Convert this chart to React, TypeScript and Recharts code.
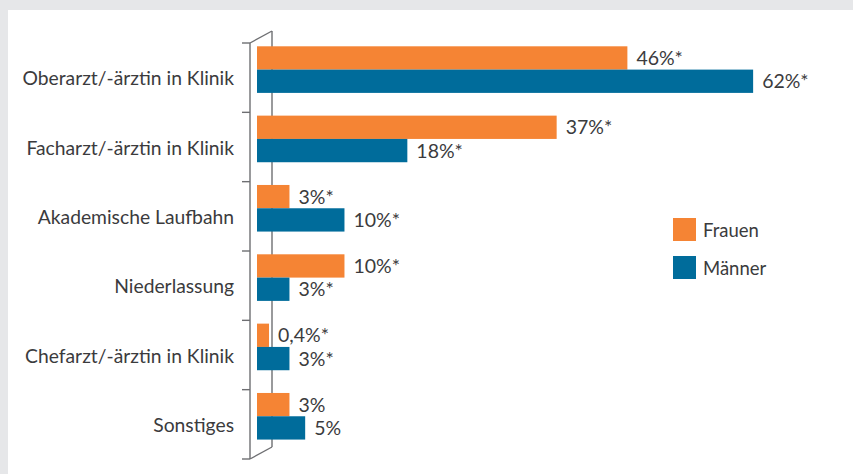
import React from "react";
import { BarChart, Bar, XAxis, YAxis, LabelList, Legend } from "recharts";

const categories = [
  "Oberarzt/-ärztin in Klinik",
  "Facharzt/-ärztin in Klinik",
  "Akademische Laufbahn",
  "Niederlassung",
  "Chefarzt/-ärztin in Klinik",
  "Sonstiges",
];
const frauen = [46, 37, 3, 10, 0.4, 3];
const maenner = [62, 18, 10, 3, 3, 5];
const frauenLabels = ["46%*", "37%*", "3%*", "10%*", "0,4%*", "3%"];
const maennerLabels = ["62%*", "18%*", "10%*", "3%*", "3%*", "5%"];

const data = categories.map((name, i) => ({
  name,
  frauen: frauen[i],
  maenner: maenner[i],
  frauenLabel: frauenLabels[i],
  maennerLabel: maennerLabels[i],
}));

const W = 853;
const H = 474;
const FONT = "Lato, 'Open Sans', sans-serif";
const TEXT = "#3b3b3d";
const ORANGE = "#f58434";
const BLUE = "#006c9b";
const AXIS = "#6e6f72";

// plot box
const PLOT_LEFT = 257;
const PLOT_TOP = 35.3;
const PLOT_BOTTOM = 451.3;
const PLOT_RIGHT = 816;
const BAND = (PLOT_BOTTOM - PLOT_TOP) / categories.length;
// pseudo 3D frame
const FRONT_X = PLOT_LEFT - 7;
const SHIFT_Y = 7.7;
const DX = 22;
const DY = 12;

// bars start at the plot edge, the zero point lies a bit inside
const BarShape = (props: any) => {
  const { x, y, width, height, fill } = props;
  return (
    <rect
      x={PLOT_LEFT}
      y={y}
      width={x + width - PLOT_LEFT}
      height={height}
      fill={fill}
    />
  );
};

const CategoryTick = (props: any) => {
  const { y, payload } = props;
  return (
    <text
      x={FRONT_X - 16}
      y={y + SHIFT_Y}
      textAnchor="end"
      dominantBaseline="central"
      fontFamily={FONT}
      fontSize={19.3}
      fill={TEXT}
    >
      {payload.value}
    </text>
  );
};

const Frame = () => {
  const top = PLOT_TOP + SHIFT_Y;
  const bottom = PLOT_BOTTOM + SHIFT_Y;
  const ticks = categories.map((_, i) => top + i * BAND).concat([bottom]);
  return (
    <svg
      width={W}
      height={H}
      style={{ position: "absolute", left: 0, top: 0 }}
    >
      <g stroke={AXIS} strokeWidth={1.4} fill="none">
        <line x1={FRONT_X} y1={top} x2={FRONT_X} y2={bottom} />
        <line x1={FRONT_X + DX} y1={top - DY} x2={FRONT_X + DX} y2={bottom - DY} />
        <line x1={FRONT_X} y1={top} x2={FRONT_X + DX} y2={top - DY} />
        <line x1={FRONT_X} y1={bottom} x2={FRONT_X + DX} y2={bottom - DY} />
        {ticks.map((t, i) => (
          <line key={i} x1={FRONT_X - 8} y1={t} x2={FRONT_X} y2={t} />
        ))}
      </g>
    </svg>
  );
};

const LegendContent = () => (
  <div style={{ fontFamily: FONT, fontSize: 18.5, color: TEXT }}>
    {[
      { label: "Frauen", color: ORANGE },
      { label: "Männer", color: BLUE },
    ].map((it) => (
      <div
        key={it.label}
        style={{ display: "flex", alignItems: "center", height: 23, marginBottom: 15 }}
      >
        <span
          style={{ width: 23, height: 23, background: it.color, display: "inline-block" }}
        />
        <span style={{ marginLeft: 7 }}>{it.label}</span>
      </div>
    ))}
  </div>
);

export default function App() {
  return (
    <div
      style={{
        position: "absolute",
        left: 0,
        top: 0,
        width: W,
        height: H,
        background: "#e6e7e9",
        overflow: "hidden",
      }}
    >
      <div
        style={{
          position: "absolute",
          left: 8,
          top: 10,
          width: W - 8,
          height: H - 10,
          background: "#ffffff",
        }}
      />
      <Frame />
      <div style={{ position: "absolute", left: 0, top: 0 }}>
        <BarChart
          width={W}
          height={H}
          data={data}
          layout="vertical"
          barGap={0}
          barSize={23.3}
          margin={{ top: PLOT_TOP, right: W - PLOT_RIGHT, bottom: H - PLOT_BOTTOM, left: 0 }}
        >
          <XAxis type="number" domain={[-1.13, 70]} allowDataOverflow hide />
          <YAxis
            type="category"
            dataKey="name"
            width={PLOT_LEFT}
            axisLine={false}
            tickLine={false}
            tick={<CategoryTick />}
            interval={0}
          />
          <Legend
            verticalAlign="middle"
            align="center"
            layout="horizontal"
            content={<LegendContent />}
            wrapperStyle={{ left: 673, top: 218, width: 150, right: "auto", bottom: "auto" }}
          />
          <Bar dataKey="frauen" name="Frauen" fill={ORANGE} shape={<BarShape />} isAnimationActive={false}>
            <LabelList
              dataKey="frauenLabel"
              position="right"
              offset={9}
              fontFamily={FONT}
              fontSize={19.5}
              fill={TEXT}
            />
          </Bar>
          <Bar dataKey="maenner" name="Männer" fill={BLUE} shape={<BarShape />} isAnimationActive={false}>
            <LabelList
              dataKey="maennerLabel"
              position="right"
              offset={9}
              fontFamily={FONT}
              fontSize={19.5}
              fill={TEXT}
            />
          </Bar>
        </BarChart>
      </div>
    </div>
  );
}
